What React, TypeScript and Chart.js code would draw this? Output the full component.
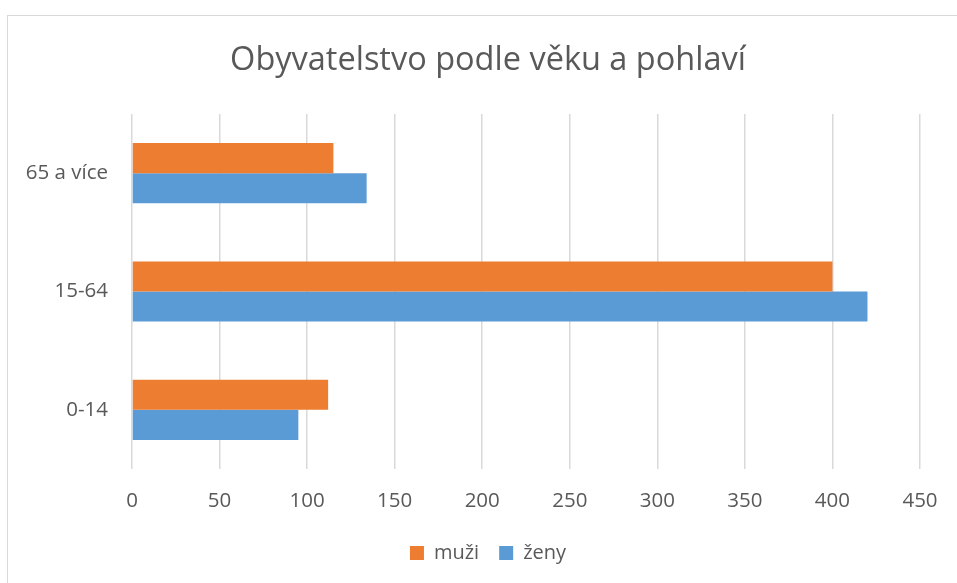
import React, { useEffect, useRef } from "react";
import { Chart, registerables } from "chart.js";

Chart.register(...registerables);

const categories = ["65 a více", "15-64", "0-14"];
const muzi = [115, 400, 112];
const zeny = [134, 420, 95];
const xTicks = [0, 50, 100, 150, 200, 250, 300, 350, 400, 450];

const FONT = "'Open Sans', 'Noto Sans', sans-serif";
const TEXT = "#595959";

const borderPlugin = {
  id: "frameBorder",
  beforeDraw(chart: any) {
    const ctx = chart.ctx;
    ctx.save();
    ctx.fillStyle = "#ffffff";
    ctx.fillRect(0, 0, chart.width, chart.height);
    ctx.strokeStyle = "#d9d9d9";
    ctx.lineWidth = 1;
    ctx.strokeRect(7.5, 15.5, chart.width + 20, chart.height + 20);
    ctx.restore();
  },
};

export default function App() {
  const ref = useRef<HTMLCanvasElement | null>(null);
  useEffect(() => {
    if (!ref.current) return;
    const chart = new Chart(ref.current, {
      type: "bar",
      data: {
        labels: categories,
        datasets: [
          { label: "muži", data: muzi, backgroundColor: "#ED7D31", borderWidth: 0 },
          { label: "ženy", data: zeny, backgroundColor: "#5B9BD5", borderWidth: 0 },
        ],
      },
      plugins: [borderPlugin],
      options: {
        indexAxis: "y",
        responsive: false,
        animation: false,
        devicePixelRatio: 1,
        layout: { padding: { left: 0, right: 0, top: 0, bottom: 10 } },
        datasets: { bar: { categoryPercentage: 0.508, barPercentage: 1 } },
        scales: {
          x: {
            min: 0,
            max: 450,
            afterBuildTicks: (scale: any) => {
              scale.ticks = xTicks.map((v) => ({ value: v }));
            },
            afterFit: (scale: any) => {
              scale.height = 54;
            },
            grid: { color: "#d9d9d9", lineWidth: 1.5, drawTicks: false },
            border: { display: false },
            ticks: { color: TEXT, font: { family: FONT, size: 20.5 }, padding: 20 },
          },
          y: {
            afterFit: (scale: any) => {
              scale.width = 132;
            },
            grid: { display: false, drawTicks: false },
            border: { display: false },
            ticks: { color: TEXT, font: { family: FONT, size: 20.5 }, padding: 24 },
          },
          yRight: {
            type: "category",
            position: "right",
            display: true,
            afterFit: (scale: any) => {
              scale.width = 56;
            },
            grid: { display: false, drawTicks: false },
            border: { display: false },
            ticks: { display: false },
          },
        },
        plugins: {
          title: {
            display: true,
            text: "Obyvatelstvo podle věku a pohlaví",
            color: TEXT,
            font: { family: FONT, size: 32.5, weight: "normal", lineHeight: 1.2 },
            padding: { top: 41, bottom: 34 },
          },
          legend: {
            position: "bottom",
            labels: {
              color: TEXT,
              font: { family: FONT, size: 20 },
              boxWidth: 14,
              boxHeight: 14,
              padding: 20,
            },
          },
          tooltip: { enabled: false },
        },
      },
    });
    return () => chart.destroy();
  }, []);
  return (
    <div style={{ position: "fixed", left: 0, top: 0, width: 957, height: 583, background: "#fff", overflow: "hidden" }}>
      <canvas ref={ref} width={976} height={583} />
    </div>
  );
}
